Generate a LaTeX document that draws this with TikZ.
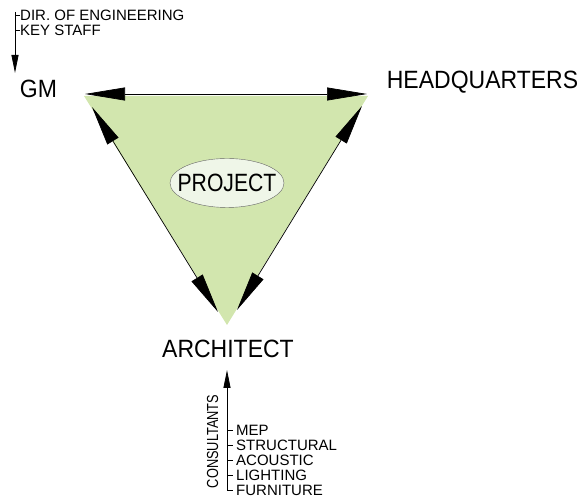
\documentclass[tikz,border=0pt]{standalone}
\usepackage{fontspec}
\setmainfont{Liberation Sans}
\usepackage{tikz}
\usetikzlibrary{arrows.meta}
\usetikzlibrary{shapes}
\definecolor{trigreen}{HTML}{D2E6AE}
\definecolor{ovalgreen}{HTML}{EFF6E8}
\newcommand{\bigtxt}{\fontsize{25}{28}\selectfont}
\newcommand{\smalltxt}{\fontsize{15}{17}\selectfont}

\begin{document}
\begin{tikzpicture}[x=1pt,y=1pt,
    bigarrow/.style={{Triangle[length=40pt,width=13pt]}-{Triangle[length=40pt,width=13pt]},line width=0.7pt},
    smallarrow/.style={-{Triangle[length=18pt,width=7pt]},line width=0.8pt},
    party/.style={font=\bigtxt,inner sep=0pt,xscale=0.92},
    member/.style={font=\smalltxt,inner sep=0pt,anchor=west}]
        \useasboundingbox (0,0) rectangle (587,497);
        %triangle
        \coordinate (L) at (84,401);
        \coordinate (R) at (368,401);
        \coordinate (B) at (227,172);
        \fill[trigreen] (L) -- (R) -- (B) -- cycle;
        \coordinate (topA) at (85,403);
        \coordinate (topB) at (367,403);
        \coordinate (leftA) at (92,390);
        \coordinate (leftB) at (218,185);
        \coordinate (rightA) at (362,391);
        \coordinate (rightB) at (237,187);
        \draw[bigarrow] (topA) -- (topB);
        \draw[bigarrow] (leftA) -- (leftB);
        \draw[bigarrow] (rightA) -- (rightB);
        \coordinate (projc) at (227,314);
        \filldraw[draw=gray!80!black,fill=ovalgreen] (projc) ellipse [x radius=57,y radius=24.5];
        \node[party,xscale=0.92] (project) at (projc) {PROJECT};

        %parties
        \node[party] (gm) at (38.5,408.5) {GM};
        \node[party] (hq) at (482.5,414.5) {HEADQUARTERS};
        \node[party] (arch) at (228,148) {ARCHITECT};

        %gm staff
        \coordinate (gmtop) at (15,485);
        \coordinate (gmtip) at (15,424);
        \draw[smallarrow] (gmtop) -- (gmtip);
        \node[member] (dir) at (20,482) {DIR. OF ENGINEERING};
        \node[member] (key) at (20,467) {KEY STAFF};
        \draw[line width=0.8pt] (gmtop |- dir.west) -- (dir.west);
        \draw[line width=0.8pt] (gmtop |- key.west) -- (key.west);

        %consultants
        \coordinate (conbot) at (227,6);
        \coordinate (contip) at (227,127);
        \draw[smallarrow] (conbot) -- (contip);
        \node[font=\fontsize{16}{18}\selectfont,rotate=90,inner sep=0pt,xscale=0.8] (cons) at (212.5,55.5) {CONSULTANTS};
        \foreach \name [count=\i] in {MEP,STRUCTURAL,ACOUSTIC,LIGHTING,FURNITURE} {
        \node[member] (c\i) at (236,{82-15*\i}) {\name};
        \draw[line width=0.8pt] (conbot |- c\i.west) -- ([xshift=-3pt]c\i.west);}
    \end{tikzpicture}
\end{document}
